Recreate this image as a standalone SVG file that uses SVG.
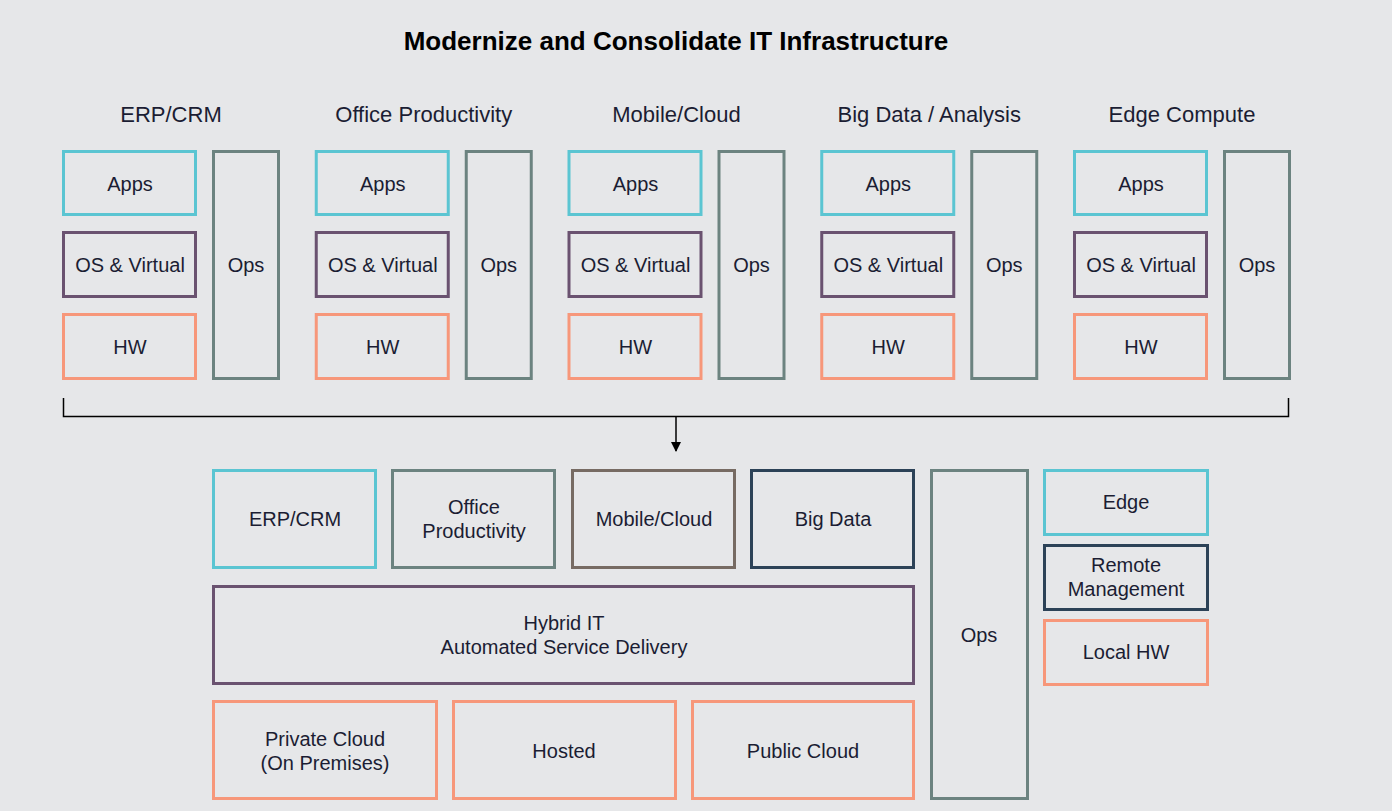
<svg xmlns="http://www.w3.org/2000/svg" width="1392" height="811" viewBox="0 0 1392 811">
<style>
.b{fill:none;stroke-width:3}
.cy{stroke:#5BC5D2}.pu{stroke:#6A5270}.sa{stroke:#F7977A}.gg{stroke:#6C8380}.br{stroke:#776B63}.nv{stroke:#2C4257}
text{font-family:"Liberation Sans","Open Sans",sans-serif;fill:#1B1D33;text-anchor:middle}
.t{font-size:20px}.h{font-size:22px}
.title{font-size:26px;font-weight:bold;fill:#000}
</style>
<defs>
<marker id="ah" markerWidth="10" markerHeight="10" refX="9" refY="5" orient="auto" markerUnits="userSpaceOnUse">
<path d="M0,0 L10,5 L0,10 Z" fill="#000"/>
</marker>
</defs>
<rect width="1392" height="811" fill="#E6E7E9"/>
<text class="title" x="676" y="50">Modernize and Consolidate IT Infrastructure</text>

<g id="col1">
<text class="h" x="171" y="122">ERP/CRM</text>
<rect class="b cy" x="63.5" y="151.5" width="132" height="63"/><text class="t" x="130" y="191">Apps</text>
<rect class="b pu" x="63.5" y="232.5" width="132" height="64"/><text class="t" x="130" y="272">OS &amp; Virtual</text>
<rect class="b sa" x="63.5" y="314.5" width="132" height="64"/><text class="t" x="130" y="354">HW</text>
<rect class="b gg" x="213.5" y="151.5" width="65" height="227"/><text class="t" x="246" y="272">Ops</text>
</g>
<g id="col2" transform="translate(252.75,0)">
<text class="h" x="171" y="122">Office Productivity</text>
<rect class="b cy" x="63.5" y="151.5" width="132" height="63"/><text class="t" x="130" y="191">Apps</text>
<rect class="b pu" x="63.5" y="232.5" width="132" height="64"/><text class="t" x="130" y="272">OS &amp; Virtual</text>
<rect class="b sa" x="63.5" y="314.5" width="132" height="64"/><text class="t" x="130" y="354">HW</text>
<rect class="b gg" x="213.5" y="151.5" width="65" height="227"/><text class="t" x="246" y="272">Ops</text>
</g>
<g id="col3" transform="translate(505.5,0)">
<text class="h" x="171" y="122">Mobile/Cloud</text>
<rect class="b cy" x="63.5" y="151.5" width="132" height="63"/><text class="t" x="130" y="191">Apps</text>
<rect class="b pu" x="63.5" y="232.5" width="132" height="64"/><text class="t" x="130" y="272">OS &amp; Virtual</text>
<rect class="b sa" x="63.5" y="314.5" width="132" height="64"/><text class="t" x="130" y="354">HW</text>
<rect class="b gg" x="213.5" y="151.5" width="65" height="227"/><text class="t" x="246" y="272">Ops</text>
</g>
<g id="col4" transform="translate(758.25,0)">
<text class="h" x="171" y="122">Big Data / Analysis</text>
<rect class="b cy" x="63.5" y="151.5" width="132" height="63"/><text class="t" x="130" y="191">Apps</text>
<rect class="b pu" x="63.5" y="232.5" width="132" height="64"/><text class="t" x="130" y="272">OS &amp; Virtual</text>
<rect class="b sa" x="63.5" y="314.5" width="132" height="64"/><text class="t" x="130" y="354">HW</text>
<rect class="b gg" x="213.5" y="151.5" width="65" height="227"/><text class="t" x="246" y="272">Ops</text>
</g>
<g id="col5" transform="translate(1011,0)">
<text class="h" x="171" y="122">Edge Compute</text>
<rect class="b cy" x="63.5" y="151.5" width="132" height="63"/><text class="t" x="130" y="191">Apps</text>
<rect class="b pu" x="63.5" y="232.5" width="132" height="64"/><text class="t" x="130" y="272">OS &amp; Virtual</text>
<rect class="b sa" x="63.5" y="314.5" width="132" height="64"/><text class="t" x="130" y="354">HW</text>
<rect class="b gg" x="213.5" y="151.5" width="65" height="227"/><text class="t" x="246" y="272">Ops</text>
</g>

<g id="connectors">
<path d="M63.5,398 V416.5 H1288.5 V398" fill="none" stroke="#000" stroke-width="1.5"/>
<line x1="676" y1="416.5" x2="676" y2="451" stroke="#000" stroke-width="1.5" marker-end="url(#ah)"/>
</g>

<g id="b-erp"><rect class="b cy" x="213.5" y="470.5" width="162" height="97"/><text class="t" x="295" y="526">ERP/CRM</text></g>
<g id="b-office"><rect class="b gg" x="392.5" y="470.5" width="162" height="97"/><text class="t" x="474" y="514">Office</text><text class="t" x="474" y="538">Productivity</text></g>
<g id="b-mobile"><rect class="b br" x="572.5" y="470.5" width="162" height="97"/><text class="t" x="654" y="526">Mobile/Cloud</text></g>
<g id="b-bigdata"><rect class="b nv" x="751.5" y="470.5" width="162" height="97"/><text class="t" x="833" y="526">Big Data</text></g>
<g id="b-hybrid"><rect class="b pu" x="213.5" y="586.5" width="700" height="97"/><text class="t" x="564" y="630">Hybrid IT</text><text class="t" x="564" y="654">Automated Service Delivery</text></g>
<g id="b-private"><rect class="b sa" x="213.5" y="701.5" width="223" height="97"/><text class="t" x="325" y="746">Private Cloud</text><text class="t" x="325" y="770">(On Premises)</text></g>
<g id="b-hosted"><rect class="b sa" x="453.5" y="701.5" width="222" height="97"/><text class="t" x="564" y="758">Hosted</text></g>
<g id="b-public"><rect class="b sa" x="692.5" y="701.5" width="221" height="97"/><text class="t" x="803" y="758">Public Cloud</text></g>
<g id="b-ops"><rect class="b gg" x="931.5" y="470.5" width="96" height="328"/><text class="t" x="979" y="642">Ops</text></g>
<g id="b-edge"><rect class="b cy" x="1044.5" y="470.5" width="163" height="64"/><text class="t" x="1126" y="509">Edge</text></g>
<g id="b-remote"><rect class="b nv" x="1044.5" y="545.5" width="163" height="64"/><text class="t" x="1126" y="572">Remote</text><text class="t" x="1126" y="596">Management</text></g>
<g id="b-local"><rect class="b sa" x="1044.5" y="620.5" width="163" height="64"/><text class="t" x="1126" y="659">Local HW</text></g>
</svg>
